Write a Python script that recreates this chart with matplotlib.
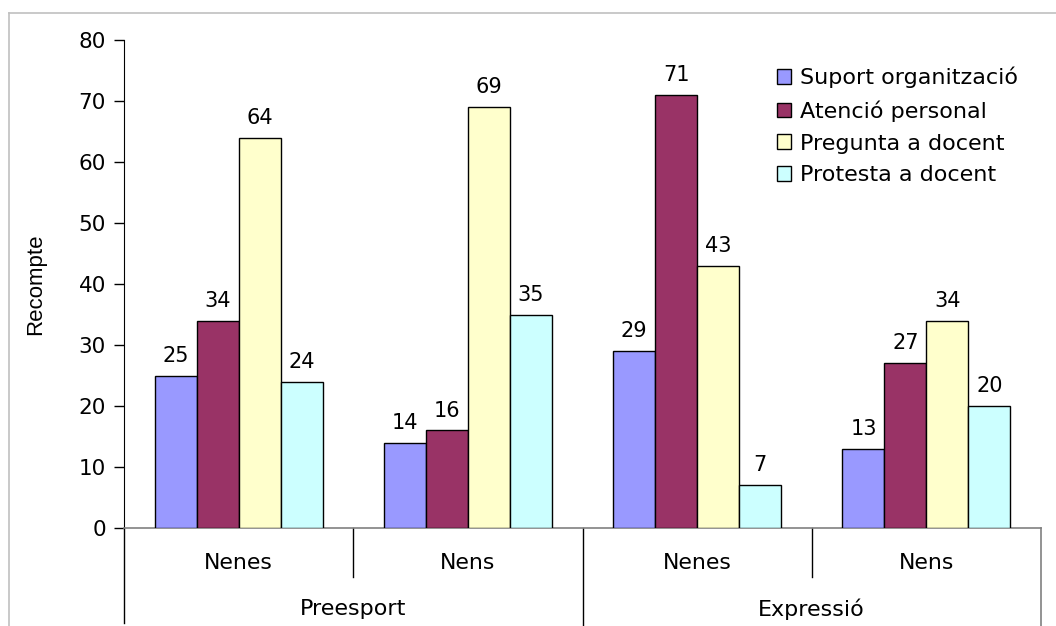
import matplotlib
matplotlib.use("Agg")
import matplotlib.pyplot as plt
from matplotlib.lines import Line2D
from matplotlib.patches import Patch
import numpy as np

# Data
activities = ["Preesport", "Expressió"]
groups = ["Nenes", "Nens", "Nenes", "Nens"]
series_names = ["Suport organització", "Atenció personal",
                "Pregunta a docent", "Protesta a docent"]
suport = [25, 14, 29, 13]
atencio = [34, 16, 71, 27]
pregunta = [64, 69, 43, 34]
protesta = [24, 35, 7, 20]
colors = ["#9999FF", "#993366", "#FFFFCC", "#CCFFFF"]
yticks = [0, 10, 20, 30, 40, 50, 60, 70, 80]

series = [suport, atencio, pregunta, protesta]

plt.rcParams["font.family"] = ["DejaVu Sans"]
fig = plt.figure(figsize=(10.56, 6.26), dpi=100)
W, H = 1056, 626
left_px, right_px, top_px, bot_px = 124, 1041, 40, 528
ax = fig.add_axes([left_px / W, (H - bot_px) / H,
                   (right_px - left_px) / W, (bot_px - top_px) / H])

x = np.arange(len(groups))
bw = 0.183
for i, (vals, col, name) in enumerate(zip(series, colors, series_names)):
    pos = x + (i - 1.5) * bw
    ax.bar(pos, vals, width=bw, color=col, edgecolor="black",
           linewidth=1.0, label=name, zorder=3)
    for xp, v in zip(pos, vals):
        ax.annotate(str(v), (xp, v), xytext=(0, 10), textcoords="offset points",
                    ha="center", va="baseline", fontsize=15)

ax.set_xlim(-0.5, 3.5)
ax.set_ylim(0, 80)
ax.set_yticks(yticks)
ax.tick_params(axis="y", labelsize=15.5, length=7, width=1, color="black", pad=6)
ax.set_xticks([])
for s in ["top", "right"]:
    ax.spines[s].set_visible(False)
ax.spines["left"].set_color("black")
ax.spines["bottom"].set_color("#808080")
ax.spines["bottom"].set_linewidth(1.2)

ax.set_ylabel("Recompte", fontsize=16, family="Liberation Sans")
ax.yaxis.set_label_coords(-(left_px - 46) / (right_px - left_px), 0.5)

# Multi-level category axis
ah = bot_px - top_px
y_inner = -(577 - bot_px) / ah
y_outer = -(H - bot_px) / ah
y_left = -(623 - bot_px) / ah
tr = ax.get_xaxis_transform()
for b in [0.5, 2.5]:
    ax.add_line(Line2D([b, b], [0, y_inner], transform=tr, color="black",
                       linewidth=1.0, clip_on=False))
ax.add_line(Line2D([-0.5, -0.5], [0, y_left], transform=tr, color="black",
                   linewidth=1.0, clip_on=False))
ax.add_line(Line2D([1.5, 1.5], [0, y_outer], transform=tr, color="black",
                   linewidth=1.0, clip_on=False))
ax.add_line(Line2D([3.5, 3.5], [0, y_outer], transform=tr, color="#808080",
                   linewidth=1.2, clip_on=False))

for xi, g in zip(x, groups):
    ax.text(xi, -(563 - bot_px) / ah, g, transform=tr, ha="center",
            va="center", fontsize=15.8)
for j, a in enumerate(activities):
    ax.text(2 * j + 0.5, -(609 - bot_px) / ah, a, transform=tr, ha="center",
            va="center", fontsize=16)

# Legend
handles = [Patch(facecolor=c, edgecolor="black", linewidth=1.0) for c in colors]
ax.legend(handles, series_names, loc="upper left",
          bbox_to_anchor=((777 - left_px) / (right_px - left_px), 1 - (67 - top_px) / ah),
          frameon=False, fontsize=16, handlelength=0.63, handleheight=0.63,
          handletextpad=0.4, labelspacing=0.53, borderaxespad=0, borderpad=0)

# Outer chart frame
fig.add_artist(Line2D([9 / W, 1.0], [1 - 13 / H, 1 - 13 / H],
                      transform=fig.transFigure, color="#c0c0c0", linewidth=1.2))
fig.add_artist(Line2D([9 / W, 9 / W], [0, 1 - 13 / H],
                      transform=fig.transFigure, color="#c0c0c0", linewidth=1.2))

fig.savefig("out.png", dpi=100)
